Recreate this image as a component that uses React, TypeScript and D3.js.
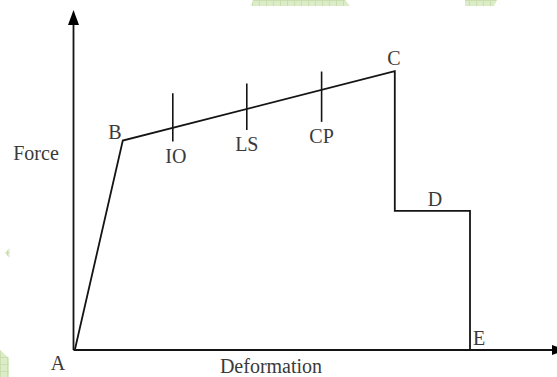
import React, { useEffect, useRef } from 'react';
import * as d3 from 'd3';

// backbone curve A-B-C-D-E (deformation, force)
const pointLabels = ['A', 'B', 'C', 'C2', 'D2', 'E'];
const deformation = [0.02, 1.22, 8.02, 8.02, 9.9, 9.9];
const force = [0, 6.16, 8.2, 4.09, 4.09, 0];

// performance levels on B-C
const levelNames = ['IO', 'LS', 'CP'];
const levelDeformation = [2.47, 4.32, 6.19];
const levelTop = [7.55, 7.84, 8.19];
const levelBottom = [6.13, 6.47, 6.71];

const W = 557;
const H = 377;

const App = () => {
  const svgRef = useRef(null);

  useEffect(() => {
    const svg = d3.select(svgRef.current);
    svg.selectAll('*').remove();

    const x = d3.scaleLinear().domain([0, 10]).range([74, 474]);
    const y = d3.scaleLinear().domain([0, 10]).range([350, 10]);
    const ink = '#141414';
    const txt = '#3a3a3a';
    const font = '"Liberation Serif", "Times New Roman", serif';

    // faint watermark shapes
    const defs = svg.append('defs');
    const pat = defs.append('pattern')
      .attr('id', 'wm')
      .attr('width', 7)
      .attr('height', 7)
      .attr('patternUnits', 'userSpaceOnUse');
    pat.append('rect').attr('width', 7).attr('height', 7).attr('fill', '#dcebc8');
    pat.append('path').attr('d', 'M0 0.5H7M0.5 0V7').attr('stroke', '#c9dfae').attr('stroke-width', 1);
    const wm = [
      [[253, 0], [345, 0], [350, 6], [251, 6]],
      [[465, 0], [497, 0], [494, 6], [465, 6]],
      [[5, 253], [9.5, 248], [9.5, 258]],
      [[0, 350], [9, 358], [9, 377], [0, 377]],
    ];
    svg.append('g').selectAll('polygon')
      .data(wm)
      .join('polygon')
      .attr('points', d => d.map(p => p.join(',')).join(' '))
      .attr('fill', 'url(#wm)');

    // axes with arrow heads
    const x0 = x(0) - 0.5;
    svg.append('line')
      .attr('x1', x0).attr('y1', y(0)).attr('x2', x0).attr('y2', 22)
      .attr('stroke', ink).attr('stroke-width', 1.8);
    svg.append('path')
      .attr('d', `M${x0},10 L${x0 - 5.5},25 L${x0 + 5.5},25 Z`)
      .attr('fill', '#000');
    svg.append('line')
      .attr('x1', x0).attr('y1', y(0)).attr('x2', 556).attr('y2', y(0))
      .attr('stroke', ink).attr('stroke-width', 2);
    svg.append('path')
      .attr('d', `M566,${y(0)} L552,${y(0) - 5} L552,${y(0) + 5} Z`)
      .attr('fill', '#000');

    // backbone curve
    const pts = deformation.map((d, i) => [d, force[i]]);
    const line = d3.line().x(d => x(d[0])).y(d => y(d[1]));
    svg.append('path')
      .attr('d', line(pts))
      .attr('fill', 'none')
      .attr('stroke', ink)
      .attr('stroke-width', 1.8)
      .attr('stroke-linejoin', 'miter');

    // level markers
    svg.append('g').selectAll('line')
      .data(levelNames)
      .join('line')
      .attr('x1', (d, i) => x(levelDeformation[i]))
      .attr('x2', (d, i) => x(levelDeformation[i]))
      .attr('y1', (d, i) => y(levelTop[i]))
      .attr('y2', (d, i) => y(levelBottom[i]))
      .attr('stroke', ink)
      .attr('stroke-width', 1.6);

    const labels = svg.append('g')
      .style('font-family', font)
      .style('font-size', '20px')
      .attr('fill', txt);

    labels.selectAll('text.lvl')
      .data(levelNames)
      .join('text')
      .attr('class', 'lvl')
      .attr('x', (d, i) => x(levelDeformation[i]) + (i === 0 ? 3 : 0))
      .attr('y', (d, i) => y(levelBottom[i]) + 21)
      .attr('text-anchor', 'middle')
      .text(d => d);

    // point letters
    const letterPos = [
      { t: 'A', x: 58, y: 370 },
      { t: 'B', x: 115, y: 139 },
      { t: 'C', x: 394, y: 65 },
      { t: 'D', x: 435, y: 206 },
      { t: 'E', x: 479, y: 345 },
    ];
    labels.selectAll('text.pt')
      .data(letterPos)
      .join('text')
      .attr('class', 'pt')
      .attr('x', d => d.x)
      .attr('y', d => d.y)
      .attr('text-anchor', 'middle')
      .text(d => d.t);

    labels.append('text')
      .attr('x', 36).attr('y', 160)
      .attr('text-anchor', 'middle')
      .text('Force');
    labels.append('text')
      .attr('x', 271).attr('y', 373)
      .attr('text-anchor', 'middle')
      .text('Deformation');
  }, []);

  return (
    <svg
      ref={svgRef}
      width={W}
      height={H}
      style={{ position: 'absolute', left: 0, top: 0, background: '#fff' }}
    />
  );
};

export default App;
